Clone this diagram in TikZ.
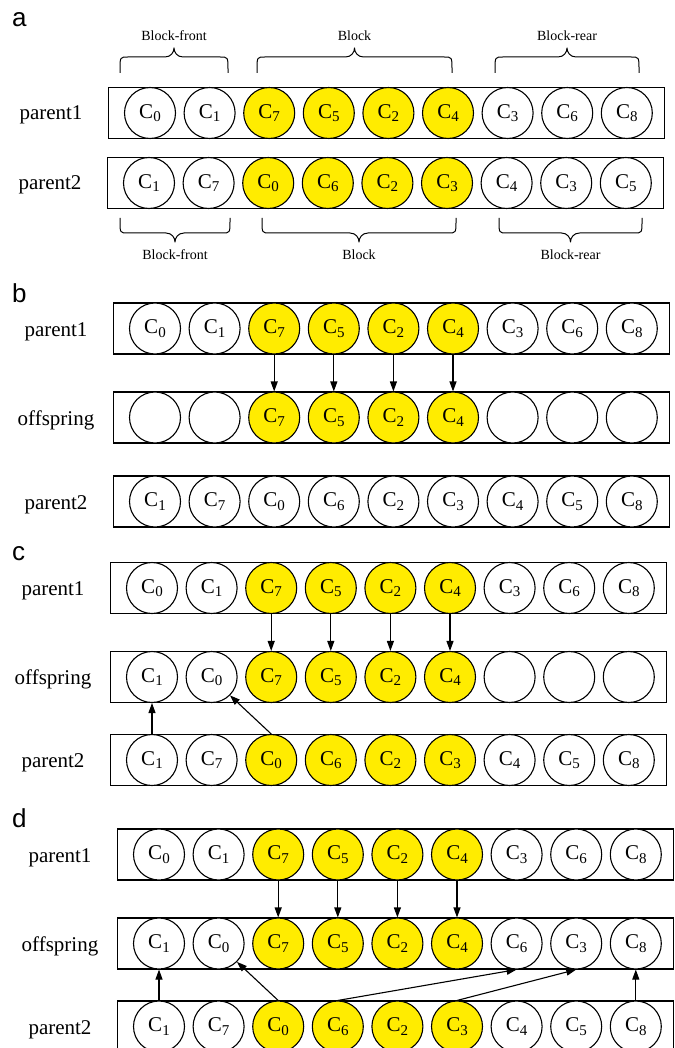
\documentclass[tikz,border=0pt]{standalone}
\usepackage{fontspec}
\setmainfont{Liberation Serif}
\newfontfamily\panelfont{Liberation Sans}
\usetikzlibrary{arrows.meta}
\definecolor{geneyellow}{RGB}{255,236,0}

% gene label: C with a lowered small index
\newcommand\gl[1]{C\raisebox{-3.5pt}{\fontsize{15}{15}\selectfont #1}}

\tikzset{
  rowbox/.style={draw, rectangle, line width=1.1pt, minimum width=556pt,
    minimum height=51pt, inner sep=0pt},
  gene/.style={draw, circle, line width=1.1pt, minimum size=51pt, inner sep=0pt,
    font=\rmfamily\fontsize{21}{21}\selectfont},
  rowlabel/.style={anchor=base, inner sep=0pt, font=\rmfamily\fontsize{21}{25}\selectfont},
  bracelabel/.style={inner sep=0pt, font=\rmfamily\fontsize{14}{16}\selectfont},
  panellabel/.style={anchor=base west, inner sep=0pt, font=\panelfont\fontsize{26}{30}\selectfont},
  bracestyle/.style={line width=1pt, line join=round},
  copyarrow/.style={line width=1.1pt, -{Triangle[length=10pt,width=7pt]}},
}

% one chromosome: #1 name, #2 left edge, #3 centre y, #4 list of label/fill
\newcommand\generow[4]{%
  \node[rowbox, anchor=west] (#1) at (#2,#3) {};
  \foreach \g/\f [count=\i] in {#4} {%
    \pgfmathsetmacro\gx{#2+42+59.6*(\i-1)}
    \node[gene, fill=\f] (#1-\i) at (\gx,#3) {\g};
  }%
}

% curly brace over a segment: #1 name, #2 x1, #3 x2, #4 y of ends,
% #5 y of straight part, #6 y of tip, #7 text, #8 y of text
\newcommand\segbrace[8]{%
  \pgfmathsetmacro\bxm{(#2+#3)/2}
  \pgfmathsetmacro\bym{#5+0.55*(#6-#5)}
  \pgfmathsetmacro\byc{#5+0.8*(#4-#5)}
  \draw[bracestyle] (#2,#4) -- (#2,\byc) .. controls (#2,#5) .. (#2+8,#5)
    -- (\bxm-9,#5)
    .. controls (\bxm-3,#5) and (\bxm,\bym) .. (\bxm,#6)
    .. controls (\bxm,\bym) and (\bxm+3,#5) .. (\bxm+9,#5)
    -- (#3-8,#5) .. controls (#3,#5) .. (#3,\byc) -- (#3,#4);
  \node[bracelabel] (#1) at (\bxm,#8) {#7};
}

\begin{document}
\begin{tikzpicture}[x=1pt, y=-1pt]
\clip (0,0) rectangle (674,1048);
\fill[white] (0,0) rectangle (674,1048);

% ---------------- a: the two parents and their segments
\node[panellabel] (la) at (12,27) {a};
\segbrace{ta1}{120}{228}{73}{57}{48}{Block-front}{36}
\segbrace{ta2}{257}{452}{73}{57}{48}{Block}{36}
\segbrace{ta3}{495}{639}{73}{57}{48}{Block-rear}{36}
\node[rowlabel] (ap1l) at (51,120) {parent1};
\generow{ap1}{108}{113}{\gl0/white,\gl1/white,\gl7/geneyellow,\gl5/geneyellow,\gl2/geneyellow,\gl4/geneyellow,\gl3/white,\gl6/white,\gl8/white}
\node[rowlabel] (ap2l) at (50,190) {parent2};
\generow{ap2}{107}{183}{\gl1/white,\gl7/white,\gl0/geneyellow,\gl6/geneyellow,\gl2/geneyellow,\gl3/geneyellow,\gl4/white,\gl3/white,\gl5/white}
\segbrace{ba1}{120}{230}{218}{233}{242}{Block-front}{255}
\segbrace{ba2}{262}{456}{218}{233}{242}{Block}{255}
\segbrace{ba3}{499}{642}{218}{233}{242}{Block-rear}{255}

% ---------------- b: block of parent1 copied
\node[panellabel] (lb) at (12,302) {b};
\node[rowlabel] (bp1l) at (56,336) {parent1};
\generow{bp1}{113}{328.5}{\gl0/white,\gl1/white,\gl7/geneyellow,\gl5/geneyellow,\gl2/geneyellow,\gl4/geneyellow,\gl3/white,\gl6/white,\gl8/white}
\node[rowlabel] (bol) at (56,425) {offspring};
\generow{bo}{113}{417.5}{{}/white,{}/white,\gl7/geneyellow,\gl5/geneyellow,\gl2/geneyellow,\gl4/geneyellow,{}/white,{}/white,{}/white}
\node[rowlabel] (bp2l) at (56,509) {parent2};
\generow{bp2}{113}{501.5}{\gl1/white,\gl7/white,\gl0/white,\gl6/white,\gl2/white,\gl3/white,\gl4/white,\gl5/white,\gl8/white}
\foreach \k in {3,...,6} \draw[copyarrow] (bp1-\k.south) -- (bo-\k.north);

% ---------------- c: block-front filled from parent2
\node[panellabel] (lc) at (12,560) {c};
\node[rowlabel] (cp1l) at (53,595) {parent1};
\generow{cp1}{110}{588}{\gl0/white,\gl1/white,\gl7/geneyellow,\gl5/geneyellow,\gl2/geneyellow,\gl4/geneyellow,\gl3/white,\gl6/white,\gl8/white}
\node[rowlabel] (col) at (53,684) {offspring};
\generow{co}{110}{677}{\gl1/white,\gl0/white,\gl7/geneyellow,\gl5/geneyellow,\gl2/geneyellow,\gl4/geneyellow,{}/white,{}/white,{}/white}
\node[rowlabel] (cp2l) at (53,767) {parent2};
\generow{cp2}{110}{760}{\gl1/white,\gl7/white,\gl0/geneyellow,\gl6/geneyellow,\gl2/geneyellow,\gl3/geneyellow,\gl4/white,\gl5/white,\gl8/white}
\foreach \k in {3,...,6} \draw[copyarrow] (cp1-\k.south) -- (co-\k.north);
\draw[copyarrow] (cp2-1.north) -- (co-1.south);
\draw[copyarrow] (cp2-3.north) -- (co-2.south east);

% ---------------- d: block-rear filled from parent2
\node[panellabel] (ld) at (12,827) {d};
\node[rowlabel] (dp1l) at (60,862) {parent1};
\generow{dp1}{117}{854.5}{\gl0/white,\gl1/white,\gl7/geneyellow,\gl5/geneyellow,\gl2/geneyellow,\gl4/geneyellow,\gl3/white,\gl6/white,\gl8/white}
\node[rowlabel] (dol) at (60,951) {offspring};
\generow{do}{117}{943.5}{\gl1/white,\gl0/white,\gl7/geneyellow,\gl5/geneyellow,\gl2/geneyellow,\gl4/geneyellow,\gl6/white,\gl3/white,\gl8/white}
\node[rowlabel] (dp2l) at (60,1034) {parent2};
\generow{dp2}{117}{1026.5}{\gl1/white,\gl7/white,\gl0/geneyellow,\gl6/geneyellow,\gl2/geneyellow,\gl3/geneyellow,\gl4/white,\gl5/white,\gl8/white}
\foreach \k in {3,...,6} \draw[copyarrow] (dp1-\k.south) -- (do-\k.north);
\draw[copyarrow] (dp2-1.north) -- (do-1.south);
\draw[copyarrow] (dp2-3.north) -- (do-2.south east);
\draw[copyarrow] (dp2-4.north) -- (do-7.south);
\draw[copyarrow] (dp2-6.north) -- (do-8.south);
\draw[copyarrow] (dp2-9.north) -- (do-9.south);
\end{tikzpicture}
\end{document}
